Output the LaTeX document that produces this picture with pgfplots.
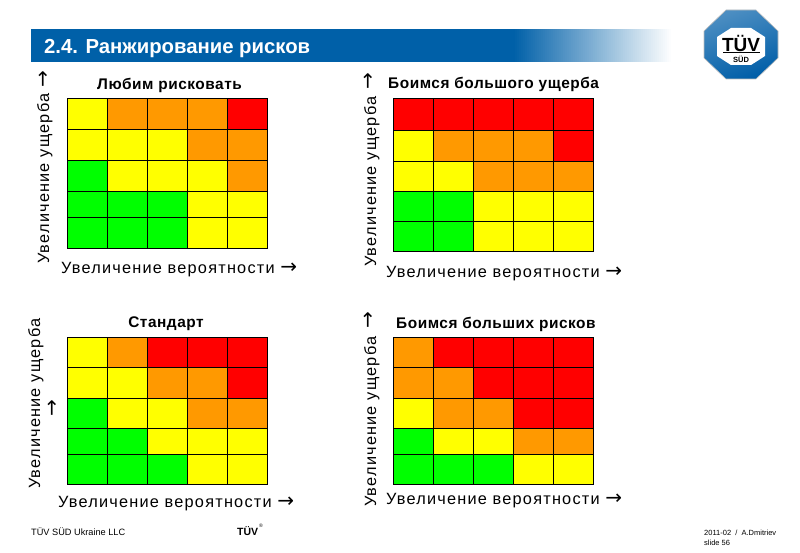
\documentclass[border=0pt]{standalone}
\usepackage{pgfplots}
\pgfplotsset{compat=1.18}
\usepackage{fontspec}
\setmainfont{Liberation Sans}
\newfontfamily\lab[LetterSpace=7.5]{Liberation Sans}
\newfontfamily\ttl[LetterSpace=3.5]{Liberation Sans}
\newfontfamily\arr{DejaVu Sans}
\definecolor{Y}{HTML}{FFFF00}
\definecolor{O}{HTML}{FF9900}
\definecolor{R}{HTML}{FF0000}
\definecolor{G}{HTML}{00FF00}
\definecolor{bandblue}{HTML}{0060A8}
\definecolor{logoblue}{HTML}{005EA8}
\newcommand{\cell}[5]{\addplot[fill=#5,draw=black,line width=0.9pt] coordinates {(#1,#3)(#2,#3)(#2,#4)(#1,#4)} -- cycle;}
\newcommand{\riskrow}[7]{%
  \cell{0}{1}{#1}{#2}{#3}\cell{1}{2}{#1}{#2}{#4}\cell{2}{3}{#1}{#2}{#5}\cell{3}{4}{#1}{#2}{#6}\cell{4}{5}{#1}{#2}{#7}}
\pgfplotsset{risk/.style={scale only axis,width=200pt,xmin=0,xmax=5,y dir=reverse,xtick=\empty,ytick=\empty,
  anchor=south west,axis line style={line width=0.9pt,black},clip=false}}
\newcommand{\labtext}{\fontsize{16.3}{18}\selectfont\lab Увеличение вероятности}
\newcommand{\ylabtext}{\fontsize{16.3}{18}\selectfont\lab Увеличение ущерба}
\newcommand{\ttlfont}{\fontsize{15.4}{17}\selectfont\bfseries\ttl}
\newcommand{\arrowfont}{\fontsize{20}{20}\selectfont\arr}
\begin{document}
\begin{tikzpicture}[x=1pt,y=-1pt]
\useasboundingbox (0,0) rectangle (800,553);
% header band
\fill[bandblue] (31,29) rectangle (514,62);
\foreach \i in {0,...,79}{
  \pgfmathsetmacro{\p}{100-\i*100/79}
  \fill[color=bandblue!\p!white] ({513+2*\i},29) rectangle ({513+2*\i+2.3},62);
}
\node[anchor=west,text=white,inner sep=0pt,font=\fontsize{20.3}{24}\selectfont\bfseries] at (44,49) {2.4. Ранжирование рисков};
% logo
\draw[gray!50,line width=0.6pt,top color=logoblue!70!white,bottom color=logoblue,shading angle=20]
  (726,10)--(756,10)--(778,31)--(778,58)--(756,79)--(726,79)--(704,58)--(704,31)--cycle;
\fill[white] (731,28)--(751,28)--(765,37)--(765,56)--(751,65)--(731,65)--(717,56)--(717,37)--cycle;
\node[font=\fontsize{19}{20}\selectfont\bfseries,inner sep=0pt] at (741,43) {\resizebox{38pt}{!}{TÜV}};
\draw[black,line width=0.8pt] (723,52.3)--(760,52.3);
\node[font=\fontsize{7.5}{9}\selectfont\bfseries,inner sep=0pt] at (741,59) {SÜD};
% top-left
\begin{axis}[risk,height=150pt,at={(67.5pt,-248.3pt)},ymin=98.3,ymax=248.3]
\riskrow{98.3}{129.3}{Y}{O}{O}{O}{R}
\riskrow{129.3}{160.3}{Y}{Y}{Y}{O}{O}
\riskrow{160.3}{191.7}{G}{Y}{Y}{Y}{O}
\riskrow{191.7}{217.7}{G}{G}{G}{Y}{Y}
\riskrow{217.7}{248.3}{G}{G}{G}{Y}{Y}
\end{axis}
\node[font=\ttlfont] at (169.5,85) {Любим рисковать};
\node[anchor=base west,inner sep=0pt] at (61,273) {\labtext\ \arrowfont→};
\node[rotate=90,anchor=base west,inner sep=0pt] at (49,264) {\ylabtext\ \arrowfont→};
% top-right
\begin{axis}[risk,height=153pt,at={(393.3pt,-251.3pt)},ymin=98.3,ymax=251.3]
\riskrow{98.3}{130.3}{R}{R}{R}{R}{R}
\riskrow{130.3}{161.3}{Y}{O}{O}{O}{R}
\riskrow{161.3}{191.3}{Y}{Y}{O}{O}{O}
\riskrow{191.3}{221.3}{G}{G}{Y}{Y}{Y}
\riskrow{221.3}{251.3}{G}{G}{Y}{Y}{Y}
\end{axis}
\node[anchor=west,inner sep=0pt,font=\ttlfont] at (388,84) {Боимся большого ущерба};
\node[inner sep=0pt,font=\arrowfont,rotate=90] at (369,81) {→};
\node[anchor=base west,inner sep=0pt] at (386,277) {\labtext\ \arrowfont→};
\node[rotate=90,anchor=base west,inner sep=0pt] at (376,267) {\ylabtext};
% bottom-left
\begin{axis}[risk,height=146.7pt,at={(67.5pt,-484pt)},ymin=337.3,ymax=484]
\riskrow{337.3}{367.7}{Y}{O}{R}{R}{R}
\riskrow{367.7}{398.3}{Y}{Y}{O}{O}{R}
\riskrow{398.3}{428.3}{G}{Y}{Y}{O}{O}
\riskrow{428.3}{454.3}{G}{G}{Y}{Y}{Y}
\riskrow{454.3}{484}{G}{G}{G}{Y}{Y}
\end{axis}
\node[font=\ttlfont] at (166,324) {Стандарт};
\node[anchor=base west,inner sep=0pt] at (58,507) {\labtext\ \arrowfont→};
\node[rotate=90,anchor=base west,inner sep=0pt] at (40,489) {\ylabtext};
\node[inner sep=0pt,font=\arrowfont,rotate=90] at (53,408) {→};
% bottom-right
\begin{axis}[risk,height=147pt,at={(393.3pt,-484.3pt)},ymin=337.3,ymax=484.3]
\riskrow{337.3}{367.3}{O}{R}{R}{R}{R}
\riskrow{367.3}{398.7}{O}{O}{R}{R}{R}
\riskrow{398.7}{428.7}{Y}{O}{O}{R}{R}
\riskrow{428.7}{454.7}{G}{Y}{Y}{O}{O}
\riskrow{454.7}{484.3}{G}{G}{G}{Y}{Y}
\end{axis}
\node[anchor=west,inner sep=0pt,font=\ttlfont] at (396,324) {Боимся больших рисков};
\node[inner sep=0pt,font=\arrowfont,rotate=90] at (369,320) {→};
\node[anchor=base west,inner sep=0pt] at (386,504) {\labtext\ \arrowfont→};
\node[rotate=90,anchor=base west,inner sep=0pt] at (376,507) {\ylabtext};
% footer
\node[anchor=west,inner sep=0pt,font=\fontsize{9.2}{12}\selectfont] at (31,532) {TÜV SÜD Ukraine LLC};
\node[anchor=west,inner sep=0pt,font=\fontsize{10.5}{12}\selectfont\bfseries] at (237,531) {TÜV};
\node[anchor=west,inner sep=0pt,font=\fontsize{5}{6}\selectfont] at (259,526) {®};
\node[anchor=west,inner sep=0pt,font=\fontsize{7.5}{10}\selectfont] at (704,533) {2011-02\ \ /\ \ A.Dmitriev};
\node[anchor=west,inner sep=0pt,font=\fontsize{7.5}{10}\selectfont] at (704,543) {slide 56};
\end{tikzpicture}
\end{document}
